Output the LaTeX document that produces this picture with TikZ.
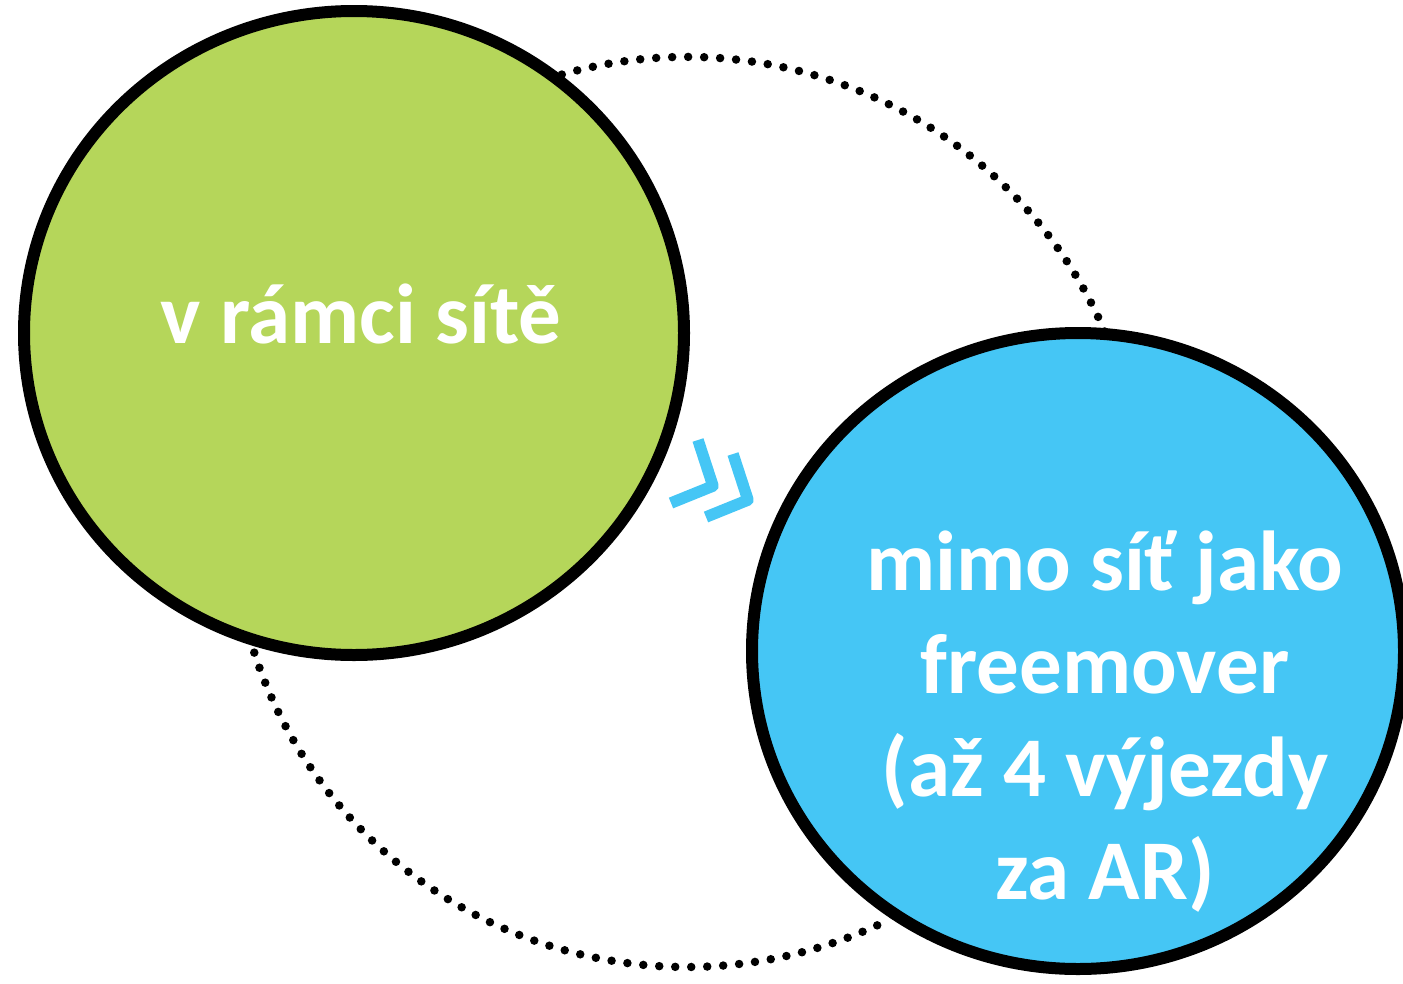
\documentclass[tikz,border=0pt]{standalone}
\usepackage{fontspec}
\setmainfont{Carlito}
\usetikzlibrary{shapes.geometric}
\definecolor{cgreen}{RGB}{181,214,90}
\definecolor{cblue}{RGB}{69,198,245}
\tikzset{
  bubble/.style={ellipse, draw=black, line width=12pt, inner sep=0pt},
  dotline/.style={line width=8.5pt, line cap=round, dash pattern=on 0pt off 16pt},
  chev/.style={draw=cblue, line width=11.5pt, line join=round},
  label/.style={text=white, font=\bfseries\fontsize{85}{103}\selectfont, align=center, inner sep=0pt}
}
\begin{document}
\begin{tikzpicture}[x=1pt, y=-1pt]
\useasboundingbox (0,0) rectangle (1403,983);
\coordinate (loop) at (687,512);
% dotted arcs (parts of one big circle, behind the bubbles)
\draw[dotline] (loop) ++(-110:455) arc[start angle=-110, end angle=-20, radius=455];
\draw[dotline] (loop) ++(162:455) arc[start angle=162, end angle=64, radius=455];
% bubbles
\node[bubble, fill=cgreen, minimum width=660pt, minimum height=644pt] (green) at (354,333) {};
\node[bubble, fill=cblue, minimum width=652pt, minimum height=636pt] (blue) at (1078,651) {};
% texts
\node[label, anchor=base] (gtext) at (361,343) {v rámci sítě};
\node[label] (btext) at (1105,722) {mimo síť jako\\freemover\\(až 4 výjezdy\\za AR)};
% chevrons
\draw[chev] (698,440) -- (713,486) -- (671,503);
\draw[chev] (733,454) -- (748,500) -- (706,517);
\end{tikzpicture}
\end{document}
